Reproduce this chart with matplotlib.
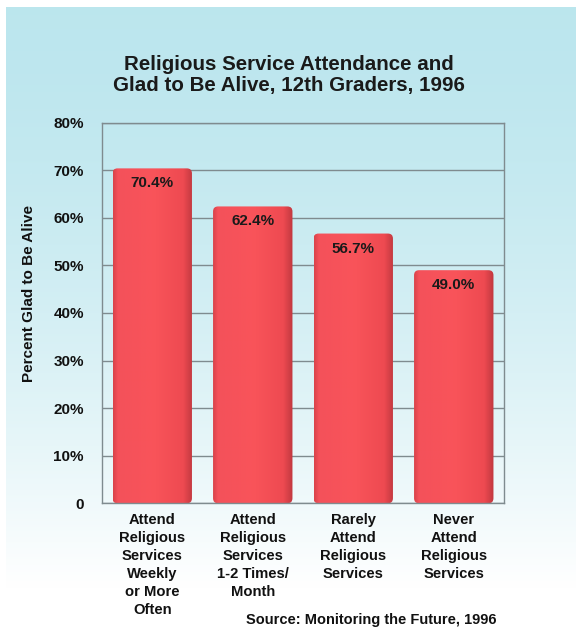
import numpy as np
import matplotlib
matplotlib.use("Agg")
import matplotlib.pyplot as plt
from matplotlib.colors import LinearSegmentedColormap
from matplotlib.patches import FancyBboxPatch

categories = [
    "Attend\nReligious\nServices\nWeekly\nor More\nOften",
    "Attend\nReligious\nServices\n1-2 Times/\nMonth",
    "Rarely\nAttend\nReligious\nServices",
    "Never\nAttend\nReligious\nServices",
]
percent_glad = [70.4, 62.4, 56.7, 49.0]
value_labels = ["70.4%", "62.4%", "56.7%", "49.0%"]
y_ticks = [0, 10, 20, 30, 40, 50, 60, 70, 80]
y_tick_labels = ["0", "10%", "20%", "30%", "40%", "50%", "60%", "70%", "80%"]

plt.rcParams["font.family"] = ["Liberation Sans", "DejaVu Sans"]
plt.rcParams["font.weight"] = "bold"

W, H = 576, 631
fig = plt.figure(figsize=(W / 100, H / 100), dpi=100, facecolor="white")

# background panel: light cyan fading to white
bg = fig.add_axes([6 / W, 0, (W - 6) / W, (H - 7) / H], zorder=-10)
bg.axis("off")
t = np.linspace(0, 1, 300)
top = np.array([0.737, 0.902, 0.933])
frac = np.clip(t / 0.93, 0, 1) ** 1.6
grad = top[None, :] + (1 - top[None, :]) * frac[:, None]
img = np.repeat(grad.reshape(300, 1, 3), 2, axis=1)
bg.imshow(img, aspect="auto", extent=[0, 1, 0, 1], origin="upper")
bg.set_xlim(0, 1)
bg.set_ylim(0, 1)

ax = fig.add_axes([102 / W, (H - 503.3) / H, 402 / W, 380.6 / H])
ax.patch.set_alpha(0)
ax.set_xlim(-0.5, 3.5)
ax.set_ylim(0, 80)

grid_col = "#7f8b8f"
ax.set_yticks(y_ticks)
ax.set_yticklabels(y_tick_labels, fontsize=11, fontweight="bold", color="#111111")
ax.tick_params(axis="y", length=0, pad=13)
ax.yaxis.grid(True, color=grid_col, linewidth=1)
ax.set_axisbelow(True)
for s in ax.spines.values():
    s.set_color(grid_col)
    s.set_linewidth(1)

x = np.arange(len(categories))
ax.set_xticks(x)
ax.set_xticklabels(categories, fontsize=10.6, fontweight="bold", color="#111111",
                   linespacing=1.36, va="top")
ax.tick_params(axis="x", length=0, pad=7)

bar_w = 0.79
bars = ax.bar(x, percent_glad, width=bar_w, color="none", edgecolor="none", zorder=2)

# cylinder-like shading across the bar
bar_cmap = LinearSegmentedColormap.from_list(
    "barshade",
    [(0.0, "#d9434a"), (0.06, "#f4515a"), (0.5, "#f9545a"),
     (0.88, "#ee4a51"), (1.0, "#c0383f")])
shade = np.linspace(0, 1, 256)[None, :]

x_per_px = 4 / 402
y_per_px = 80 / 380.6
aspect = y_per_px / x_per_px
for rect, lbl in zip(bars, value_labels):
    x0, w, h = rect.get_x(), rect.get_width(), rect.get_height()
    patch = FancyBboxPatch((x0, 0), w, h,
                           boxstyle="round,pad=0,rounding_size=0.05",
                           mutation_aspect=aspect,
                           facecolor="none", edgecolor="none", zorder=2)
    ax.add_patch(patch)
    im = ax.imshow(shade, cmap=bar_cmap, aspect="auto",
                   extent=[x0, x0 + w, 0, h], zorder=2)
    im.set_clip_path(patch)
    ax.text(x0 + w / 2, h - 15 * y_per_px, lbl, ha="center", va="center",
            fontsize=11, fontweight="bold", color="#1a1a1a", zorder=3)

ax.set_xlim(-0.5, 3.5)
ax.set_ylim(0, 80)

ax.set_ylabel("Percent Glad to Be Alive", fontsize=11, fontweight="bold",
              color="#111111")
ax.yaxis.set_label_coords(-(102 - 29) / 402, (503.3 - 294) / 380.6)
ax.yaxis.label.set_va("center")

fig.text(289 / W, 1 - 75 / H,
         "Religious Service Attendance and\nGlad to Be Alive, 12th Graders, 1996",
         ha="center", va="center", fontsize=14.8, fontweight="bold",
         color="#1a1a1a", linespacing=1.2)

fig.text(497 / W, 1 - 620 / H, "Source: Monitoring the Future, 1996",
         ha="right", va="center", fontsize=10.5, fontweight="bold", color="#111111")

fig.savefig("out.png", dpi=100, facecolor="white")
